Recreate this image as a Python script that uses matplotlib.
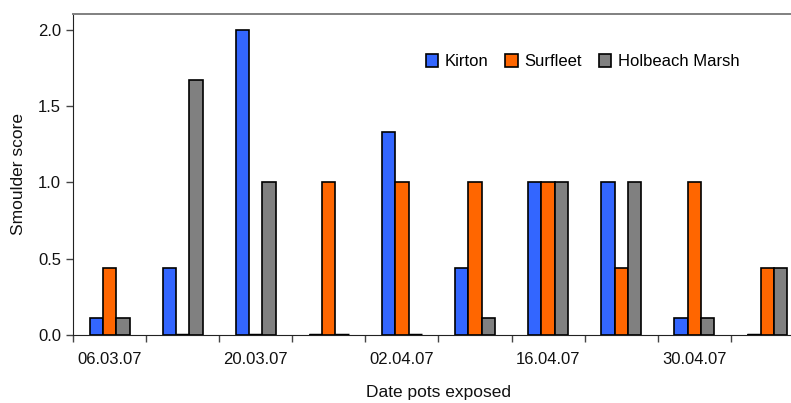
import matplotlib.pyplot as plt
import numpy as np

plt.rcParams['font.family'] = ['Liberation Sans', 'DejaVu Sans']

# Smoulder scores per exposure date
dates = ['06.03.07', '', '20.03.07', '', '02.04.07', '', '16.04.07', '', '30.04.07', '']
kirton = [0.11, 0.44, 2.0, 0.0, 1.33, 0.44, 1.0, 1.0, 0.11, 0.0]
surfleet = [0.44, 0.0, 0.0, 1.0, 1.0, 1.0, 1.0, 0.44, 1.0, 0.44]
holbeach = [0.11, 1.67, 1.0, 0.0, 0.0, 0.11, 1.0, 1.0, 0.11, 0.44]

series = [('Kirton', kirton, '#3366FF'),
          ('Surfleet', surfleet, '#FF6600'),
          ('Holbeach Marsh', holbeach, '#808080')]

fig = plt.figure(figsize=(7.91, 4.03), dpi=100)
ax = fig.add_axes([0.0923, 0.169, 0.924, 0.797])

x = np.arange(len(dates))
w = 0.182
for i, (name, vals, col) in enumerate(series):
    pos = x + (i - 1) * w
    ax.bar(pos, vals, width=w, color=col, edgecolor='black',
           linewidth=1.2, label=name)
    # zero scores still show as a flat line on the axis
    vals = np.asarray(vals)
    zp = pos[vals == 0]
    ax.hlines(np.zeros(len(zp)), zp - w / 2, zp + w / 2, color='black',
              linewidth=2.5, zorder=3)

ax.set_xlim(-0.5, len(dates) - 0.5)
ax.set_ylim(0, 2.105)
ax.set_yticks([0, 0.5, 1.0, 1.5, 2.0])
ax.set_yticklabels(['0.0', '0.5', '1.0', '1.5', '2.0'])

# labels sit under groups, tick marks between groups
ax.set_xticks(x)
ax.set_xticklabels(dates)
ax.set_xticks(np.arange(-0.5, len(dates), 1.0), minor=True)
ax.tick_params(axis='x', which='major', length=0, pad=12, labelsize=12, labelcolor='#111111')
ax.tick_params(axis='x', which='minor', length=5, width=1, color='#444444', direction='out')
ax.tick_params(axis='y', length=5, width=1, color='#444444', direction='out',
               labelsize=12, labelcolor='#111111')

ax.spines['right'].set_visible(False)
ax.spines['top'].set_color('#808080')
ax.spines['top'].set_linewidth(1.4)
ax.spines['left'].set_color('#222222')
ax.spines['bottom'].set_color('#222222')

ax.set_ylabel('Smoulder score', fontsize=12.5, color='#111111', labelpad=9)
ax.set_xlabel('Date pots exposed', fontsize=12.5, color='#111111', labelpad=13)

ax.legend(loc='upper left', bbox_to_anchor=(0.462, 0.92), ncol=3, frameon=False,
          fontsize=12, handlelength=0.75, handleheight=0.75, handletextpad=0.4,
          columnspacing=1.0)

plt.savefig('out.png', dpi=100)
